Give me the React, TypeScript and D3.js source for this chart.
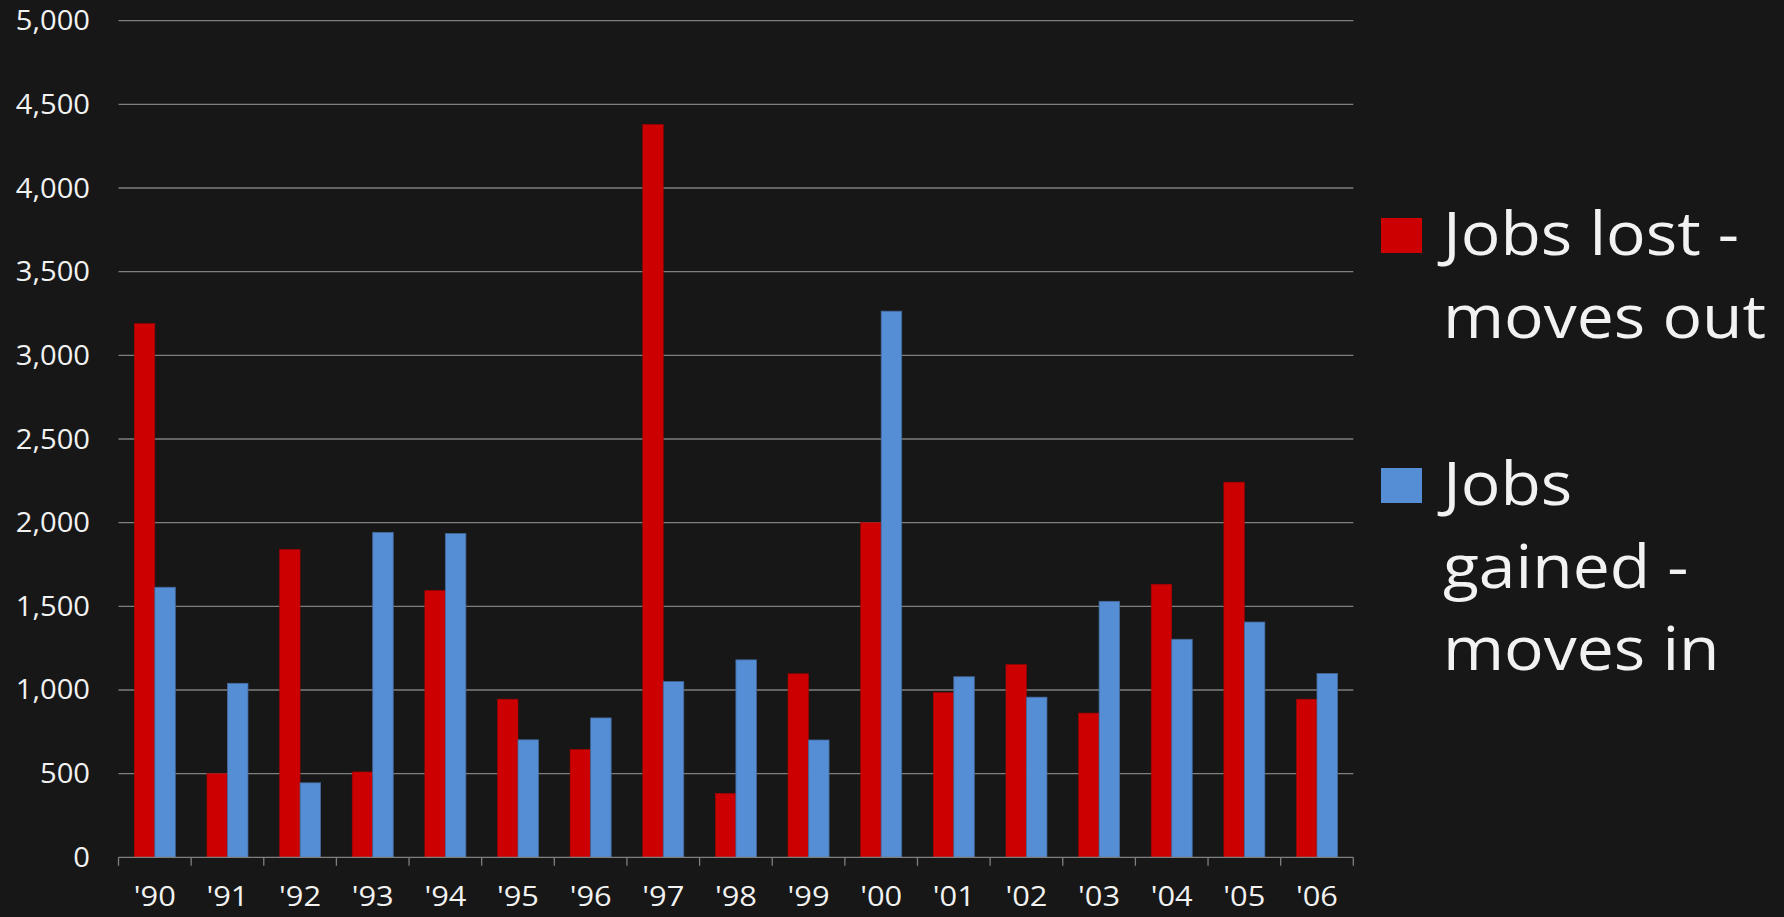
import React, { useEffect, useRef } from 'react';
import * as d3 from 'd3';

const years = ["'90", "'91", "'92", "'93", "'94", "'95", "'96", "'97", "'98", "'99", "'00", "'01", "'02", "'03", "'04", "'05", "'06"];
const jobsLost = [3190, 500, 1840, 510, 1595, 945, 645, 4380, 382, 1097, 2000, 985, 1152, 862, 1632, 2242, 945];
const jobsGained = [1614, 1040, 445, 1942, 1935, 702, 833, 1050, 1180, 701, 3264, 1079, 957, 1530, 1303, 1406, 1098];
const yTicks = [0, 500, 1000, 1500, 2000, 2500, 3000, 3500, 4000, 4500, 5000];
const seriesNames = ['lost', 'gained'];
const legendLines = [['Jobs lost -', 'moves out'], ['Jobs', 'gained -', 'moves in']];

const RED = '#cc0000';
const BLUE = '#558ed5';
const TEXT = '#f2f2f2';
const GRID = '#7f7f7f';
const BG = '#171717';
const SX = 1.1; // picture is stretched horizontally

const App: React.FC = () => {
  const svgRef = useRef<SVGSVGElement>(null);

  useEffect(() => {
    document.body.style.margin = '0';
    document.body.style.background = BG;

    const svg = d3.select(svgRef.current);
    svg.selectAll('*').remove();

    const width = 1784;
    const height = 917;
    const left = 118.5;
    const right = 1353.3;
    const top = 20.7;
    const bottom = 857.3;
    const font = '"Open Sans", sans-serif';

    svg.attr('width', width).attr('height', height);
    svg.append('rect').attr('width', width).attr('height', height).attr('fill', BG);

    const x0 = d3.scaleBand<string>()
      .domain(years)
      .range([left, right])
      .paddingInner(0.435)
      .paddingOuter(0.2175);

    const x1 = d3.scaleBand<string>()
      .domain(seriesNames)
      .range([0, x0.bandwidth()]);

    const y = d3.scaleLinear().domain([0, 5000]).range([bottom, top]);

    // Grid lines
    svg.append('g')
      .selectAll('line')
      .data(yTicks.filter(d => d > 0))
      .enter().append('line')
      .attr('x1', left)
      .attr('x2', right)
      .attr('y1', d => y(d))
      .attr('y2', d => y(d))
      .attr('stroke', GRID)
      .attr('stroke-width', 1.3);

    // Y labels
    svg.append('g')
      .selectAll('text')
      .data(yTicks)
      .enter().append('text')
      .attr('transform', d => `translate(90,${y(d) + 9.5}) scale(${SX},1)`)
      .attr('text-anchor', 'end')
      .attr('font-family', font)
      .attr('font-size', 26.5)
      .attr('fill', TEXT)
      .text(d => d3.format(',')(d));

    // Bars
    const groups = svg.append('g')
      .selectAll('g')
      .data(years)
      .enter().append('g')
      .attr('transform', d => `translate(${x0(d)},0)`);

    groups.append('rect')
      .attr('x', x1('lost')!)
      .attr('width', x1.bandwidth())
      .attr('y', (_, i) => y(jobsLost[i]))
      .attr('height', (_, i) => bottom - y(jobsLost[i]))
      .attr('fill', RED)
      .attr('stroke', '#a00000')
      .attr('stroke-width', 0.6);

    groups.append('rect')
      .attr('x', x1('gained')!)
      .attr('width', x1.bandwidth())
      .attr('y', (_, i) => y(jobsGained[i]))
      .attr('height', (_, i) => bottom - y(jobsGained[i]))
      .attr('fill', BLUE)
      .attr('stroke', '#45699a')
      .attr('stroke-width', 0.8);

    // X axis
    const step = x0.step();
    const axis = svg.append('g');
    axis.append('line')
      .attr('x1', left)
      .attr('x2', right)
      .attr('y1', bottom)
      .attr('y2', bottom)
      .attr('stroke', GRID)
      .attr('stroke-width', 1.3);

    axis.selectAll('.tick')
      .data(d3.range(years.length + 1))
      .enter().append('line')
      .attr('class', 'tick')
      .attr('x1', i => left + i * step)
      .attr('x2', i => left + i * step)
      .attr('y1', bottom)
      .attr('y2', bottom + 8.5)
      .attr('stroke', GRID)
      .attr('stroke-width', 1.3);

    axis.selectAll('text')
      .data(years)
      .enter().append('text')
      .attr('transform', d => `translate(${x0(d)! + x0.bandwidth() / 2},906) scale(${SX},1)`)
      .attr('text-anchor', 'middle')
      .attr('font-family', font)
      .attr('font-size', 28)
      .attr('fill', TEXT)
      .text(d => d);

    // Legend
    const legendY = [218, 468];
    const legendBaselines = [[255, 338], [505, 588, 670]];
    const colors = [RED, BLUE];
    legendLines.forEach((lines, i) => {
      svg.append('rect')
        .attr('x', 1381)
        .attr('y', legendY[i])
        .attr('width', 41)
        .attr('height', 35)
        .attr('fill', colors[i]);
      lines.forEach((t, j) => {
        svg.append('text')
          .attr('transform', `translate(1443,${legendBaselines[i][j]}) scale(${SX},1)`)
          .attr('font-family', font)
          .attr('font-size', 60)
          .attr('fill', TEXT)
          .text(t);
      });
    });
  }, []);

  return <svg ref={svgRef} style={{ display: 'block' }}></svg>;
};

export default App;
